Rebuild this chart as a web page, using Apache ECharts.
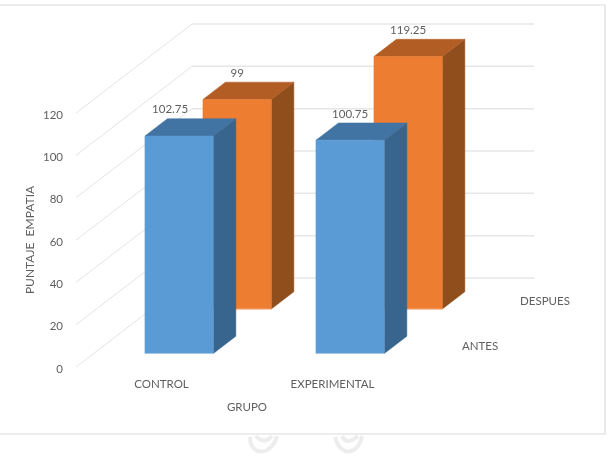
<!DOCTYPE html>
<html><head><meta charset="utf-8">
<style>html,body{margin:0;padding:0;background:#fff}#c{width:610px;height:460px}</style>
<script src="https://cdn.jsdelivr.net/npm/echarts@6/dist/echarts.min.js"></script>
</head><body><div id="c"></div>
<script>
const categories = ['CONTROL', 'EXPERIMENTAL'];
const depthNames = ['ANTES', 'DESPUES'];
const antes = [102.75, 100.75];
const despues = [99, 119.25];
const yTicks = [0, 20, 40, 60, 80, 100, 120];

const FONT = 'Lato, Carlito, sans-serif';
const FS = 11.5;
const TXT = '#5f5f5f';
const DX = 116, DY = -89;          // depth vector of the 3D floor
const BAR_W = 0.4, BAR_D = 0.194, ROW0 = 0.152;
const palette = [
  {front: '#5b9bd5', top: '#4274a3', side: '#37658d', edge: '#a5c8e8'},
  {front: '#ed7d31', top: '#b15d24', side: '#8f4e1c', edge: '#f4a876'}
];
const labelShift = [[-9, 0], [0, 0]];
const depthLabelGap = [33, 40];

const chart = echarts.init(document.getElementById('c'), null, {renderer: 'canvas'});

function barRenderer(row) {
  return function (params, api) {
    const cat = api.value(0), v = api.value(1);
    const base = api.coord([cat, 0]);
    const topP = api.coord([cat, v]);
    const w = api.size([1, 0])[0] * BAR_W;
    const f = row * 0.5 + ROW0;
    const x0 = base[0] - w / 2 + f * DX, x1 = x0 + w;
    const yb = base[1] + f * DY, yt = topP[1] + f * DY;
    const ox = BAR_D * DX, oy = BAR_D * DY;
    const c = palette[row];
    const poly = (pts, fill) => ({type: 'polygon', shape: {points: pts}, style: {fill: fill, stroke: fill, lineWidth: 0.5}});
    return {
      type: 'group',
      children: [
        poly([[x1, yt], [x1 + ox, yt + oy], [x1 + ox, yb + oy], [x1, yb]], c.side),
        poly([[x0, yt], [x1, yt], [x1 + ox, yt + oy], [x0 + ox, yt + oy]], c.top),
        poly([[x0, yt], [x1, yt], [x1, yb], [x0, yb]], c.front),
        {type: 'line', shape: {x1: x0, y1: yb, x2: x1, y2: yb}, style: {stroke: c.edge, lineWidth: 1}},
        {type: 'text', style: {
          text: String(v), x: (x0 + x1) / 2 + labelShift[row][cat], y: yt + oy - 9,
          align: 'center', verticalAlign: 'middle',
          fill: TXT, font: FS + 'px ' + FONT
        }}
      ]
    };
  };
}

function gridRenderer(params, api) {
  const v = api.value(1);
  const y = api.coord([0, v])[1];
  const cs = params.coordSys;
  const l = cs.x, r = cs.x + cs.width;
  return {
    type: 'group',
    children: [
      {type: 'line', shape: {x1: l, y1: y, x2: l + DX, y2: y + DY}, style: {stroke: '#e4e4e4', lineWidth: 1}},
      {type: 'line', shape: {x1: l + DX, y1: y + DY, x2: r + DX, y2: y + DY}, style: {stroke: '#e6e6e6', lineWidth: 1.5}}
    ]
  };
}

function depthLabelRenderer(params, api) {
  const row = params.dataIndex;
  const p = api.coord([1, 0]);
  const cs = params.coordSys;
  const f = row * 0.5 + 0.25;
  return {
    type: 'text',
    style: {
      text: depthNames[row],
      x: cs.x + cs.width + f * DX + depthLabelGap[row], y: p[1] + f * DY + 1.5,
      align: 'center', verticalAlign: 'middle',
      fill: TXT, font: FS + 'px ' + FONT
    }
  };
}

const wm = (x1, y1, c1x, c1y, c2x, c2y, x2, y2) => ({
  type: 'bezierCurve', silent: true, z: -2,
  shape: {x1: x1, y1: y1, cpx1: c1x, cpy1: c1y, cpx2: c2x, cpy2: c2y, x2: x2, y2: y2},
  style: {stroke: '#ededed', lineWidth: 4, fill: null}
});

chart.setOption({
  animation: false,
  backgroundColor: '#fff',
  grid: {left: 76, top: 113, width: 342, height: 254},
  xAxis: {
    type: 'category', data: categories,
    name: 'GRUPO', nameLocation: 'middle', nameGap: 34,
    nameTextStyle: {color: TXT, fontFamily: FONT, fontSize: FS},
    axisLine: {show: false}, axisTick: {show: false},
    axisLabel: {color: TXT, fontFamily: FONT, fontSize: FS, margin: 11}
  },
  yAxis: {
    type: 'value', min: 0, max: 120, interval: 20,
    name: 'PUNTAJE  EMPATIA', nameLocation: 'middle', nameGap: 40, nameMoveOverlap: false,
    nameTextStyle: {color: TXT, fontFamily: FONT, fontSize: 12},
    axisLine: {show: false}, axisTick: {show: false}, splitLine: {show: false},
    axisLabel: {color: TXT, fontFamily: FONT, fontSize: FS, margin: 13, verticalAlign: 'top', lineHeight: 4}
  },
  graphic: [
    wm(250, 437, 250, 457, 272, 456, 277, 436),
    wm(256, 436, 262, 443, 268, 441, 272, 436),
    wm(335, 437, 340, 457, 358, 456, 362, 436),
    wm(342, 436, 346, 444, 352, 441, 358, 436),
    {type: 'polyline', silent: true, z: -1, shape: {points: [[0, 5], [605, 5], [605, 434], [0, 434]]}, style: {stroke: '#dcdcdc', fill: null, lineWidth: 1.2}}
  ],
  series: [
    {type: 'custom', name: 'grid', silent: true, z: 1, renderItem: gridRenderer, encode: {x: 0, y: 1}, data: yTicks.map(v => [0, v])},
    {type: 'custom', name: depthNames[1], z: 2, renderItem: barRenderer(1), encode: {x: 0, y: 1}, data: despues.map((v, i) => [i, v])},
    {type: 'custom', name: depthNames[0], z: 3, renderItem: barRenderer(0), encode: {x: 0, y: 1}, data: antes.map((v, i) => [i, v])},
    {type: 'custom', name: 'depth', silent: true, z: 4, renderItem: depthLabelRenderer, encode: {x: 0, y: 1}, data: depthNames.map(() => [1, 0])}
  ]
});
</script></body></html>
